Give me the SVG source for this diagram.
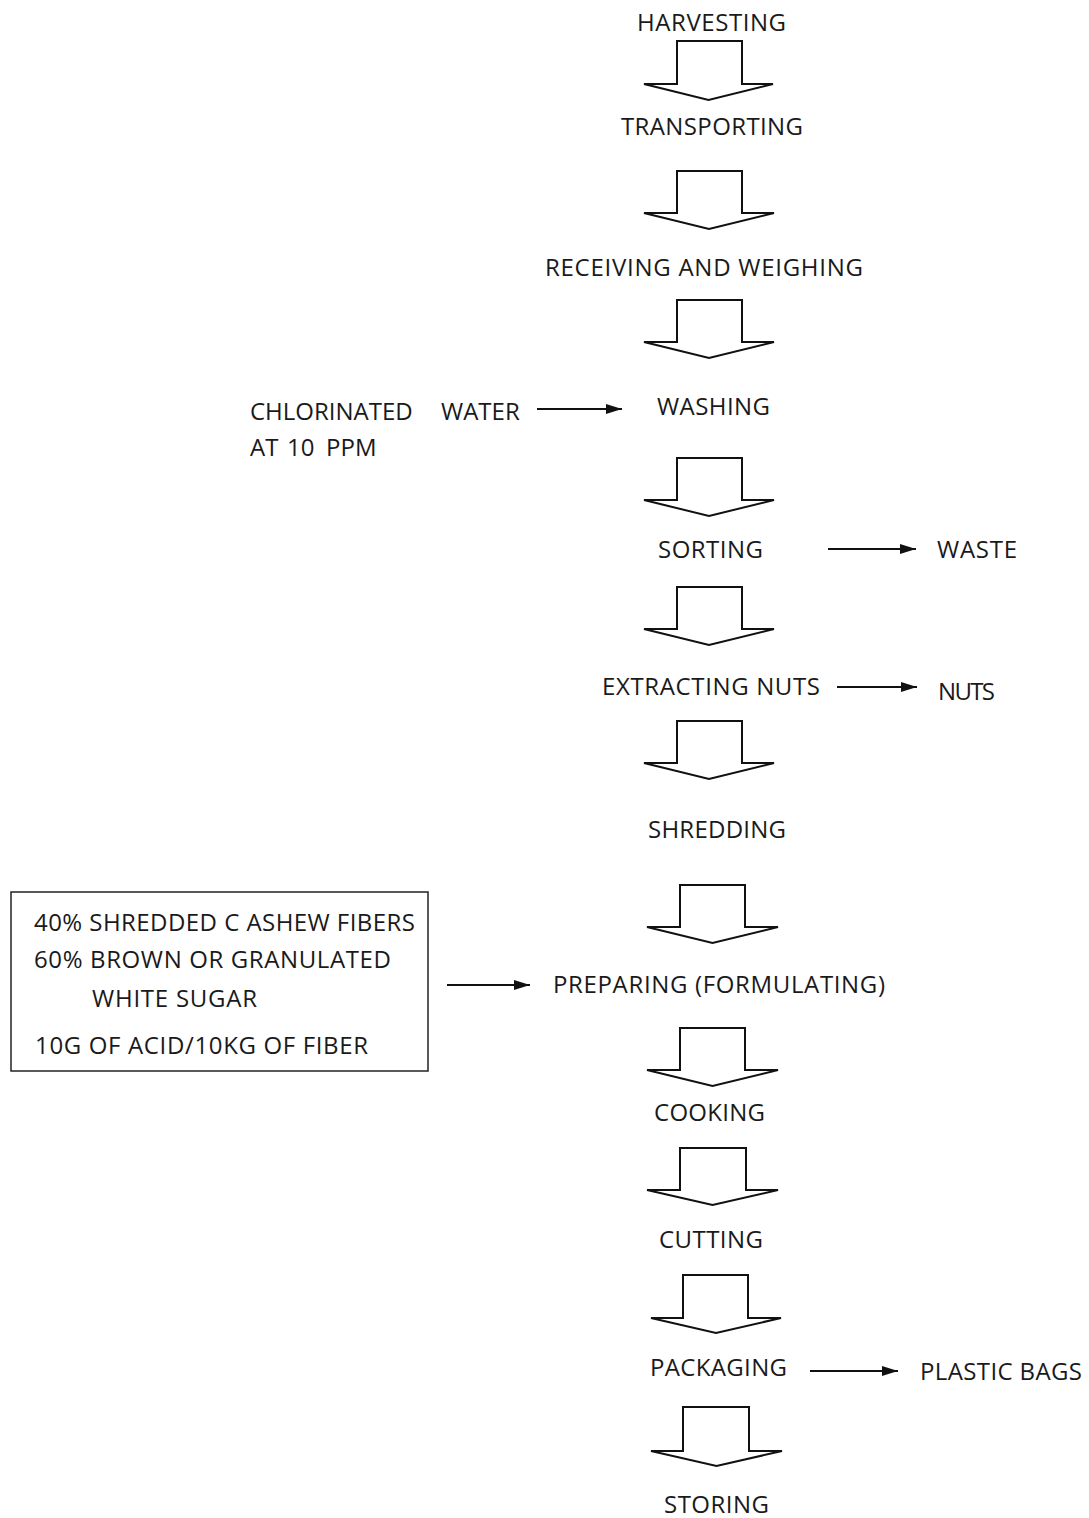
<svg xmlns="http://www.w3.org/2000/svg" width="1089" height="1518" viewBox="0 0 1089 1518">
<defs>
<marker id="ah" viewBox="0 0 16 10" refX="16" refY="5" markerWidth="16" markerHeight="10" markerUnits="userSpaceOnUse" orient="auto">
<path d="M0,0 L16,5 L0,10 Z" fill="#111"/>
</marker>
</defs>
<style>
text{font-family:"Open Sans","Noto Sans","Liberation Sans",sans-serif;font-size:24px;fill:#1a1a1a}
.blk{fill:#fff;stroke:#111;stroke-width:2;stroke-linejoin:miter}
.con{stroke:#111;stroke-width:2;fill:none;marker-end:url(#ah)}
.box{fill:#fff;stroke:#222;stroke-width:1.5}
</style>
<rect width="1089" height="1518" fill="#fff"/>

<g id="flow-arrows">
<path class="blk" d="M644,84 L677,84 L677,41 L742,41 L742,84 L773,84 L708.5,100 Z"/>
<path class="blk" d="M644,213 L677,213 L677,171 L742,171 L742,213 L774,213 L709,229 Z"/>
<path class="blk" d="M644,342 L677,342 L677,300 L742,300 L742,342 L774,342 L709,358 Z"/>
<path class="blk" d="M644,500 L677,500 L677,458 L742,458 L742,500 L774,500 L709,516 Z"/>
<path class="blk" d="M644,629 L677,629 L677,587 L742,587 L742,629 L774,629 L709,645 Z"/>
<path class="blk" d="M644,763 L677,763 L677,721 L742,721 L742,763 L774,763 L709,779 Z"/>
<path class="blk" d="M647,927 L680,927 L680,885 L745,885 L745,927 L778,927 L712.5,943 Z"/>
<path class="blk" d="M647,1070 L680,1070 L680,1028 L745,1028 L745,1070 L778,1070 L712.5,1086 Z"/>
<path class="blk" d="M647,1190 L680,1190 L680,1148 L746,1148 L746,1190 L778,1190 L712.5,1205 Z"/>
<path class="blk" d="M651,1318 L683,1318 L683,1275 L748,1275 L748,1318 L781,1318 L716,1333 Z"/>
<path class="blk" d="M651,1451 L683,1451 L683,1407 L749,1407 L749,1451 L782,1451 L716.5,1466 Z"/>
</g>

<g id="connectors">
<line class="con" x1="537" y1="409" x2="622" y2="409"/>
<line class="con" x1="828" y1="549" x2="916" y2="549"/>
<line class="con" x1="837" y1="687" x2="917" y2="687"/>
<line class="con" x1="447" y1="985" x2="530" y2="985"/>
<line class="con" x1="810" y1="1371" x2="898" y2="1371"/>
</g>

<g id="harvesting"><text x="637" y="31" textLength="149">HARVESTING</text></g>
<g id="transporting"><text x="621" y="135" textLength="182">TRANSPORTING</text></g>
<g id="receiving"><text x="545" y="276" textLength="318">RECEIVING AND WEIGHING</text></g>
<g id="washing"><text x="657" y="415" textLength="113">WASHING</text></g>
<g id="sorting"><text x="658" y="558" textLength="105">SORTING</text></g>
<g id="extracting"><text x="602" y="695" textLength="218">EXTRACTING NUTS</text></g>
<g id="shredding"><text x="648" y="838" textLength="138">SHREDDING</text></g>
<g id="preparing"><text x="553" y="993" textLength="332">PREPARING (FORMULATING)</text></g>
<g id="cooking"><text x="654" y="1121" textLength="111">COOKING</text></g>
<g id="cutting"><text x="659" y="1248" textLength="104">CUTTING</text></g>
<g id="packaging"><text x="650" y="1376" textLength="137">PACKAGING</text></g>
<g id="storing"><text x="664" y="1513" textLength="105">STORING</text></g>

<g id="chlorinated-water">
<text y="420"><tspan x="250">CHLORINATED</tspan><tspan x="441">WATER</tspan></text>
<text y="456"><tspan x="250">AT</tspan><tspan x="287">10</tspan><tspan x="326">PPM</tspan></text>
</g>
<g id="waste"><text x="937" y="558" textLength="80">WASTE</text></g>
<g id="nuts"><text x="938" y="700" textLength="57">NUTS</text></g>
<g id="plastic-bags"><text x="920" y="1380" textLength="162">PLASTIC BAGS</text></g>

<g id="ingredients">
<rect class="box" x="11" y="892" width="417" height="179"/>
<text x="34" y="931" textLength="381">40% SHREDDED C ASHEW FIBERS</text>
<text x="34" y="968" textLength="357">60% BROWN OR GRANULATED</text>
<text x="92" y="1007" textLength="165">WHITE SUGAR</text>
<text x="35" y="1054" textLength="333">10G OF ACID/10KG OF FIBER</text>
</g>
</svg>
